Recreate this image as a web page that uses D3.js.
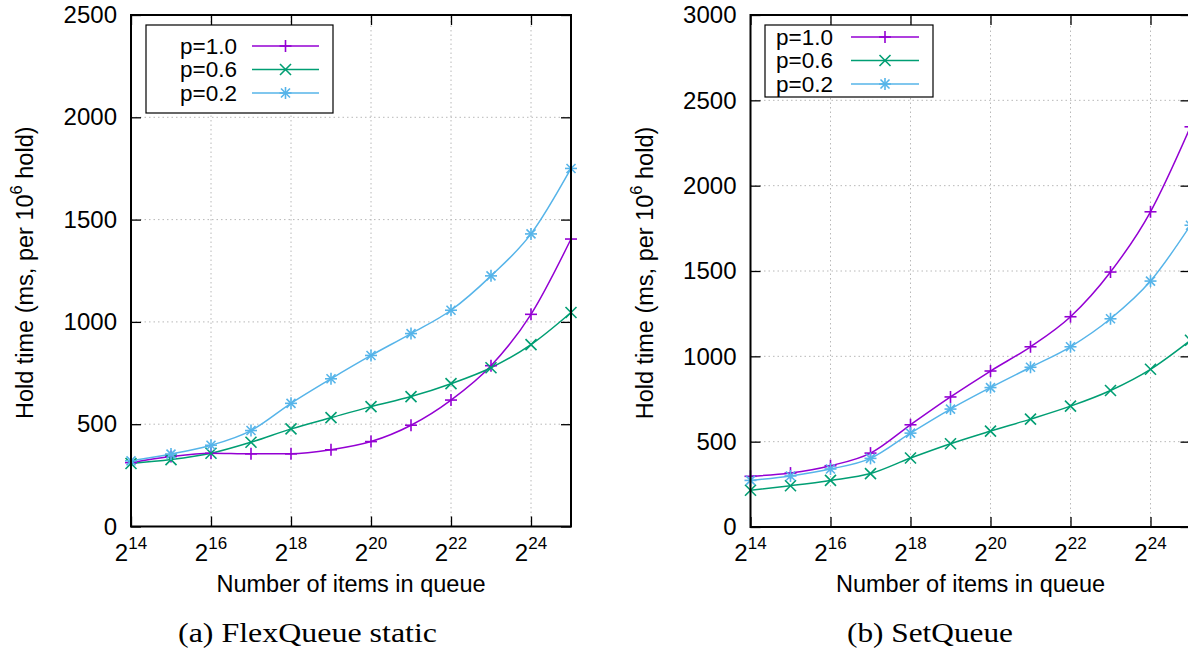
<!DOCTYPE html>
<html>
<head>
<meta charset="utf-8">
<script src="https://cdn.jsdelivr.net/npm/d3@7"></script>
<style>
  html, body { margin: 0; padding: 0; background: #fff; }
  svg { display: block; }
</style>
</head>
<body>
<svg id="chart" width="1188" height="654"></svg>
<script>
// ---------- data ----------
const exponents = [14, 15, 16, 17, 18, 19, 20, 21, 22, 23, 24, 25];
const xTickExponents = [14, 16, 18, 20, 22, 24];
const seriesNames = ["p=1.0", "p=0.6", "p=0.2"];
const seriesColors = ["#9400d3", "#009e73", "#56b4e9"];
const seriesMarkers = ["plus", "cross", "star"];

// (a) FlexQueue static
const flexP10 = [312, 342, 358, 355, 355, 375, 415, 495, 618, 786, 1037, 1405];
const flexP06 = [308, 327, 358, 412, 477, 532, 586, 635, 698, 776, 889, 1046];
const flexP02 = [321, 354, 397, 469, 602, 722, 836, 943, 1057, 1225, 1430, 1750];
const flexYTicks = [0, 500, 1000, 1500, 2000, 2500];

// (b) SetQueue
const setP10 = [297, 316, 359, 433, 599, 762, 914, 1056, 1232, 1494, 1847, 2345];
const setP06 = [215, 242, 273, 313, 404, 488, 562, 632, 708, 800, 924, 1094];
const setP02 = [273, 299, 340, 402, 550, 691, 817, 936, 1056, 1220, 1441, 1768];
const setYTicks = [0, 500, 1000, 1500, 2000, 2500, 3000];

const xTitle = "Number of items in queue";
const captions = ["(a) FlexQueue static", "(b) SetQueue"];

// ---------- layout ----------
const SANS = "'Liberation Sans', Arial, Helvetica, sans-serif";
const SERIF = "'Liberation Serif', 'Times New Roman', Times, serif";
const svg = d3.select("#chart");

const panels = [
  {
    series: [flexP10, flexP06, flexP02], yTicks: flexYTicks,
    x0: 131, x1: 571, yTop: 15, yBot: 526.5,
    yTitleX: 33, caption: captions[0], captionX: 307.5, captionLen: 259,
    legend: { x: 146, y: 25, w: 187, h: 88, rows: [46, 69.5, 93], textX: 237, anchor: "end", l0: 252, l1: 319 }
  },
  {
    series: [setP10, setP06, setP02], yTicks: setYTicks,
    x0: 750.5, x1: 1190.5, yTop: 15, yBot: 527,
    yTitleX: 653, caption: captions[1], captionX: 930, captionLen: 166,
    legend: { x: 765, y: 25, w: 168, h: 72, rows: [37, 60.5, 84], textX: 776, anchor: "start", l0: 851, l1: 919 }
  }
];

function drawMarker(g, type, cx, cy, color) {
  const s = 6;
  const lines = [];
  if (type === "plus" || type === "star") {
    lines.push([cx - s, cy, cx + s, cy], [cx, cy - s, cx, cy + s]);
  }
  if (type === "cross" || type === "star") {
    const c = type === "star" ? 4.5 : 5.5;
    lines.push([cx - c, cy - c, cx + c, cy + c], [cx - c, cy + c, cx + c, cy - c]);
  }
  lines.forEach(l => {
    g.append("line").attr("x1", l[0]).attr("y1", l[1]).attr("x2", l[2]).attr("y2", l[3])
      .attr("stroke", color).attr("stroke-width", 1.6);
  });
}

panels.forEach(p => {
  const x = d3.scaleLog().base(2).domain([2 ** 14, 2 ** 25]).range([p.x0, p.x1]);
  const yMax = p.yTicks[p.yTicks.length - 1];
  const y = d3.scaleLinear().domain([0, yMax]).range([p.yBot, p.yTop]);
  const g = svg.append("g").attr("font-family", SANS);

  // grid
  const grid = g.append("g").attr("stroke", "#b8b8b8").attr("stroke-width", 1)
    .attr("stroke-dasharray", "1.5,3");
  xTickExponents.filter(e => e !== 14).forEach(e => {
    grid.append("line").attr("x1", x(2 ** e)).attr("x2", x(2 ** e))
      .attr("y1", p.yBot).attr("y2", p.yTop);
  });
  p.yTicks.filter(v => v !== 0 && v !== yMax).forEach(v => {
    grid.append("line").attr("x1", p.x0).attr("x2", p.x1)
      .attr("y1", y(v)).attr("y2", y(v));
  });

  // series lines
  const line = d3.line().x((d, i) => x(2 ** exponents[i])).y(d => y(d)).curve(d3.curveMonotoneX);
  p.series.forEach((vals, si) => {
    g.append("path").attr("d", line(vals)).attr("fill", "none")
      .attr("stroke", seriesColors[si]).attr("stroke-width", 1.5);
  });
  p.series.forEach((vals, si) => {
    const mg = g.append("g");
    vals.forEach((v, i) => drawMarker(mg, seriesMarkers[si], x(2 ** exponents[i]), y(v), seriesColors[si]));
  });

  // axes (inward ticks)
  const tickVals = xTickExponents.map(e => 2 ** e);
  const axL = g.append("g").attr("transform", `translate(${p.x0},0)`)
    .call(d3.axisLeft(y).tickValues(p.yTicks).tickSize(-10).tickPadding(14).tickFormat(d3.format("d")));
  const axR = g.append("g").attr("transform", `translate(${p.x1},0)`)
    .call(d3.axisRight(y).tickValues(p.yTicks).tickSize(-10).tickFormat(""));
  const axT = g.append("g").attr("transform", `translate(0,${p.yTop})`)
    .call(d3.axisTop(x).tickValues(tickVals).tickSize(-10).tickFormat(""));
  const axB = g.append("g").attr("transform", `translate(0,${p.yBot})`)
    .call(d3.axisBottom(x).tickValues(tickVals).tickSize(-10).tickFormat(""));
  [axL, axR, axT, axB].forEach(a => {
    a.select(".domain").remove();
    a.selectAll(".tick line").attr("stroke", "#000").attr("stroke-width", 1.3);
  });
  axL.attr("font-family", SANS).attr("font-size", 24);
  axL.selectAll(".tick text").attr("fill", "#000");

  // x tick labels with superscripts
  xTickExponents.forEach(e => {
    const t = g.append("text").attr("x", x(2 ** e)).attr("y", 561)
      .attr("text-anchor", "middle").attr("font-size", 24);
    t.append("tspan").text("2");
    t.append("tspan").attr("font-size", 17).attr("dy", -12).text(String(e));
  });

  // frame
  g.append("rect").attr("x", p.x0).attr("y", p.yTop)
    .attr("width", p.x1 - p.x0).attr("height", p.yBot - p.yTop)
    .attr("fill", "none").attr("stroke", "#000").attr("stroke-width", 2);

  // axis titles
  g.append("text").attr("x", (p.x0 + p.x1) / 2).attr("y", 592)
    .attr("text-anchor", "middle").attr("font-size", 23.5).text(xTitle);
  const yt = g.append("text").attr("transform", `translate(${p.yTitleX},${(p.yTop + p.yBot) / 2 + 2}) rotate(-90)`)
    .attr("text-anchor", "middle").attr("font-size", 23.5);
  yt.append("tspan").text("Hold time (ms, per 10");
  yt.append("tspan").attr("font-size", 16.5).attr("dy", -11).text("6");
  yt.append("tspan").attr("dy", 11).text(" hold)");

  // legend
  const L = p.legend;
  const lg = g.append("g");
  lg.append("rect").attr("x", L.x).attr("y", L.y).attr("width", L.w).attr("height", L.h)
    .attr("fill", "#fff").attr("stroke", "#000").attr("stroke-width", 1.2);
  seriesNames.forEach((name, si) => {
    lg.append("text").attr("x", L.textX).attr("y", L.rows[si]).attr("dy", "0.35em")
      .attr("text-anchor", L.anchor).attr("font-size", 22.5).text(name);
    lg.append("line").attr("x1", L.l0).attr("x2", L.l1).attr("y1", L.rows[si]).attr("y2", L.rows[si])
      .attr("stroke", seriesColors[si]).attr("stroke-width", 1.5);
    drawMarker(lg, seriesMarkers[si], (L.l0 + L.l1) / 2, L.rows[si], seriesColors[si]);
  });

  // caption
  svg.append("text").attr("x", p.captionX).attr("y", 642).attr("text-anchor", "middle")
    .attr("font-family", SERIF).attr("font-size", 27)
    .attr("textLength", p.captionLen).attr("lengthAdjust", "spacingAndGlyphs")
    .text(p.caption);
});
</script>
</body>
</html>
